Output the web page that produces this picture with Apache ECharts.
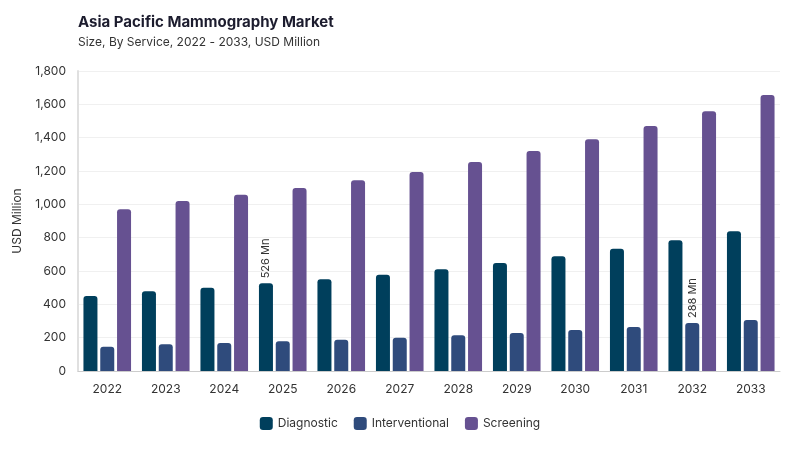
<!DOCTYPE html>
<html>
<head>
  <meta charset="utf-8">
  <title>Asia Pacific Mammography Market</title>
  <script src="https://cdn.jsdelivr.net/npm/echarts@6/dist/echarts.min.js"></script>
  <style>
    html, body { margin: 0; padding: 0; background: #fff; }
    #chart { width: 800px; height: 450px; }
  </style>
</head>
<body>
  <div id="chart"></div>
  <script>
    // datos
    const years = ['2022', '2023', '2024', '2025', '2026', '2027', '2028', '2029', '2030', '2031', '2032', '2033'];
    const diagnostic = [450, 478, 500, 526, 550, 578, 610, 648, 688, 734, 784, 838];
    const interventional = [146, 160, 168, 178, 188, 200, 214, 228, 246, 264, 288, 306];
    const screening = [970, 1020, 1058, 1098, 1144, 1194, 1254, 1320, 1390, 1470, 1558, 1656];

    // etiquetas puntuales
    const diagLabelYear = '2025';
    const intLabelYear = '2032';

    const fontFam = 'Inter, "Noto Sans", sans-serif';
    const myChart = echarts.init(document.getElementById('chart'));

    function labelAt(year) {
      return {
        show: true,
        position: 'top',
        rotate: 90,
        align: 'left',
        verticalAlign: 'middle',
        distance: 5,
        color: '#333',
        fontSize: 11,
        fontFamily: fontFam,
        formatter: function (p) {
          return p.name === year ? p.value + ' Mn' : '';
        }
      };
    }

    const option = {
      animation: false,
      title: {
        text: 'Asia Pacific Mammography Market',
        subtext: 'Size, By Service, 2022 - 2033, USD Million',
        left: 73,
        top: 10,
        itemGap: 6,
        textStyle: { fontSize: 15, fontWeight: 'bold', color: '#1c1c2e', fontFamily: fontFam },
        subtextStyle: { fontSize: 12, color: '#333', fontFamily: fontFam }
      },
      legend: {
        bottom: 15,
        left: 'center',
        itemWidth: 13,
        itemHeight: 13,
        itemGap: 16,
        icon: 'roundRect',
        textStyle: { fontSize: 12, color: '#333', fontFamily: fontFam },
        data: ['Diagnostic', 'Interventional', 'Screening']
      },
      grid: { left: 78, right: 20, top: 71, bottom: 79 },
      xAxis: {
        type: 'category',
        data: years,
        axisLine: { lineStyle: { color: '#cccccc' } },
        axisTick: { show: false },
        axisLabel: { color: '#333', fontSize: 12, margin: 12, fontFamily: fontFam }
      },
      yAxis: {
        type: 'value',
        min: 0,
        max: 1800,
        interval: 200,
        name: 'USD Million',
        nameLocation: 'middle',
        nameGap: 49,
        nameTextStyle: { fontSize: 12, color: '#333', fontFamily: fontFam },
        axisLine: { show: true, lineStyle: { color: '#e0e0e0', width: 2 } },
        axisTick: { show: false },
        splitLine: { lineStyle: { color: '#f0f0f0' } },
        axisLabel: {
          color: '#333', fontSize: 12, margin: 12, fontFamily: fontFam,
          formatter: function (v) { return v.toLocaleString('en-US'); }
        }
      },
      series: [
        {
          name: 'Diagnostic',
          type: 'bar',
          data: diagnostic,
          barWidth: 14,
          barGap: '20%',
          itemStyle: { color: '#003f5c', borderRadius: [3, 3, 0, 0] },
          label: labelAt(diagLabelYear)
        },
        {
          name: 'Interventional',
          type: 'bar',
          data: interventional,
          barWidth: 14,
          barGap: '20%',
          itemStyle: { color: '#2f4b7c', borderRadius: [3, 3, 0, 0] },
          label: labelAt(intLabelYear)
        },
        {
          name: 'Screening',
          type: 'bar',
          data: screening,
          barWidth: 14,
          barGap: '20%',
          itemStyle: { color: '#665191', borderRadius: [3, 3, 0, 0] }
        }
      ]
    };

    myChart.setOption(option);
  </script>
</body>
</html>
